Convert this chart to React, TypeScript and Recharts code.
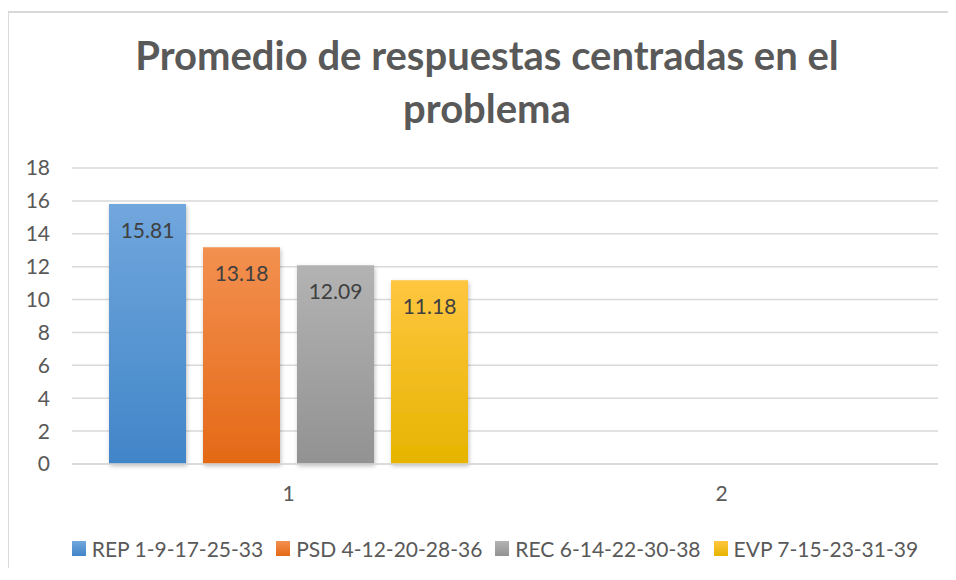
import { BarChart, Bar, XAxis, YAxis, CartesianGrid, Legend, LabelList } from 'recharts';

// Categorías del eje X
const categorias = ['1', '2'];
// Valores por serie (solo la categoría 1 tiene datos)
const rep = [15.81, null];
const psd = [13.18, null];
const rec = [12.09, null];
const evp = [11.18, null];
const yTicks = [0, 2, 4, 6, 8, 10, 12, 14, 16, 18];

const series = [
  { key: 'rep', name: 'REP 1-9-17-25-33', top: '#71a7dd', bottom: '#4185c8', values: rep },
  { key: 'psd', name: 'PSD 4-12-20-28-36', top: '#f39050', bottom: '#e46916', values: psd },
  { key: 'rec', name: 'REC 6-14-22-30-38', top: '#b3b3b3', bottom: '#929292', values: rec },
  { key: 'evp', name: 'EVP 7-15-23-31-39', top: '#ffc640', bottom: '#e6b400', values: evp },
];

const data = categorias.map((c, i) => {
  const row: Record<string, string | number | null> = { cat: c };
  series.forEach((s) => { row[s.key] = s.values[i]; });
  return row;
});

const FONT = 'Lato, "Open Sans", sans-serif';

function LeyendaBarras() {
  return (
    <div style={{ display: 'flex', justifyContent: 'center', gap: 13, fontFamily: FONT, fontSize: 21, color: '#595959', height: 36, alignItems: 'center', paddingLeft: 44 }}>
      {series.map((s) => (
        <div key={s.key} style={{ display: 'flex', alignItems: 'center', gap: 6 }}>
          <span style={{ width: 14, height: 15, display: 'inline-block', background: `linear-gradient(${s.top}, ${s.bottom})` }} />
          <span>{s.name}</span>
        </div>
      ))}
    </div>
  );
}

export default function App() {
  return (
    <div style={{ position: 'relative', width: 940, height: 560, overflow: 'hidden' }}>
      {/* borde del área del gráfico */}
      <div style={{ position: 'absolute', left: 0, top: 3, width: 940, height: 560, borderLeft: '2px solid #d9d9d9', borderTop: '2px solid #d9d9d9', marginLeft: -1 }} />
      {/* título */}
      <div style={{ position: 'absolute', left: 14, top: 21, width: 930, textAlign: 'center', fontFamily: FONT, fontWeight: 'bold', fontSize: 40, lineHeight: '53px', color: '#595959' }}>
        Promedio de respuestas centradas en el<br />problema
      </div>
      <BarChart
        width={940}
        height={560}
        data={data}
        margin={{ top: 160, right: 10, bottom: 2, left: 0 }}
        barCategoryGap={37}
        barGap={17}
        style={{ position: 'absolute', left: 0, top: 0 }}
      >
        <defs>
          {series.map((s) => (
            <linearGradient key={s.key} id={`g-${s.key}`} x1="0" y1="0" x2="0" y2="1">
              <stop offset="0%" stopColor={s.top} />
              <stop offset="100%" stopColor={s.bottom} />
            </linearGradient>
          ))}
          <filter id="sombra" x="-10%" y="-10%" width="130%" height="130%">
            <feDropShadow dx="1" dy="2" stdDeviation="2" floodColor="#000" floodOpacity="0.25" />
          </filter>
        </defs>
        <CartesianGrid vertical={false} stroke="#d9d9d9" strokeWidth={1.5} />
        <XAxis
          dataKey="cat"
          height={66}
          axisLine={{ stroke: '#d9d9d9', strokeWidth: 1.5 }}
          tickLine={false}
          tickSize={0}
          tickMargin={22}
          tick={{ fill: '#595959', fontSize: 21, fontFamily: FONT }}
        />
        <YAxis
          width={64}
          domain={[0, 18]}
          ticks={yTicks}
          axisLine={false}
          tickLine={false}
          tickSize={0}
          tickMargin={22}
          tick={{ fill: '#595959', fontSize: 21, fontFamily: FONT }}
        />
        <Legend verticalAlign="bottom" height={36} content={() => <LeyendaBarras />} />
        {series.map((s) => (
          <Bar key={s.key} dataKey={s.key} name={s.name} fill={`url(#g-${s.key})`} filter="url(#sombra)" isAnimationActive={false}>
            <LabelList dataKey={s.key} position="insideTop" offset={19} fill="#404040" fontSize={21} fontFamily={FONT} />
          </Bar>
        ))}
      </BarChart>
    </div>
  );
}
